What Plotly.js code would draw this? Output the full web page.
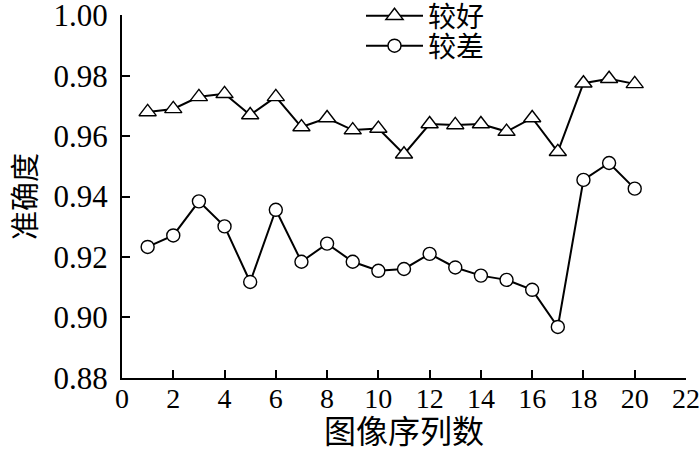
<!DOCTYPE html>
<html>
<head>
<meta charset="utf-8">
<script src="https://cdn.plot.ly/plotly-3.0.1.min.js"></script>
<style>html,body{margin:0;padding:0;background:#fff;}#chart{width:700px;height:452px;}</style>
</head>
<body>
<div id="chart"></div>
<script>
const seq = [1,2,3,4,5,6,7,8,9,10,11,12,13,14,15,16,17,18,19,20];
const good = [0.968,0.969,0.973,0.974,0.967,0.973,0.963,0.966,0.962,0.9625,0.954,0.964,0.9637,0.964,0.9615,0.966,0.9548,0.9775,0.979,0.9773];
const poor = [0.9233,0.9271,0.9384,0.9301,0.9117,0.9356,0.9184,0.9244,0.9184,0.9154,0.916,0.921,0.9165,0.9138,0.9124,0.9091,0.8968,0.9455,0.9511,0.9426];
const names = ['较好','较差'];
const xTicks = [0,2,4,6,8,10,12,14,16,18,20,22];
const yTicks = [0.88,0.90,0.92,0.94,0.96,0.98,1.00];

const cjk = 'Noto Sans CJK SC, sans-serif';
const serif = 'Liberation Serif, Times New Roman, Times, serif';

const traces = [
  {x: seq, y: good, name: names[0], legend: 'legend', mode: 'lines+markers', type: 'scatter',
   line: {color: '#000', width: 2},
   marker: {symbol: 'triangle-up', size: 15, color: '#fff', line: {color: '#000', width: 1.4}}},
  {x: seq, y: poor, name: names[1], legend: 'legend2', mode: 'lines+markers', type: 'scatter',
   line: {color: '#000', width: 2},
   marker: {symbol: 'circle', size: 13, color: '#fff', line: {color: '#000', width: 1.4}}}
];

const legendBase = {xref: 'container', yref: 'container', xanchor: 'left', yanchor: 'middle',
  bgcolor: 'rgba(0,0,0,0)', font: {family: cjk, size: 28, color: '#000'}, itemwidth: 57};

const layout = {
  width: 700, height: 452,
  margin: {l: 122, r: 14, t: 15, b: 74, autoexpand: false},
  paper_bgcolor: '#fff', plot_bgcolor: '#fff',
  showlegend: true,
  legend: Object.assign({}, legendBase, {x: 361/700, y: 1 - 16/452}),
  legend2: Object.assign({}, legendBase, {x: 361/700, y: 1 - 46/452}),
  xaxis: {range: [0, 22.0001], tickvals: xTicks, ticktext: xTicks.map(String), tickangle: 0,
          showgrid: false, zeroline: false, showline: true, linecolor: '#000', linewidth: 2,
          ticks: 'inside', ticklen: 8, tickwidth: 2, tickcolor: '#000', ticklabelstandoff: -6,
          ticklabeloverflow: 'allow',
          tickfont: {family: serif, size: 28, color: '#000'},
          title: {text: '图像序列数', font: {family: cjk, size: 32, color: '#000'}, standoff: 11}},
  yaxis: {range: [0.8799, 1.0001], tickvals: yTicks, ticktext: yTicks.map(v => v.toFixed(2)),
          showgrid: false, zeroline: false, showline: true, linecolor: '#000', linewidth: 2,
          ticks: 'inside', ticklen: 8, tickwidth: 2, tickcolor: '#000', ticklabelstandoff: 6,
          ticklabeloverflow: 'allow',
          tickfont: {family: serif, size: 31, color: '#000'},
          title: {text: '准确度', font: {family: cjk, size: 29, color: '#000'}, standoff: 8}}
};

Plotly.newPlot('chart', traces, layout, {displayModeBar: false, staticPlot: true});
</script>
</body>
</html>
